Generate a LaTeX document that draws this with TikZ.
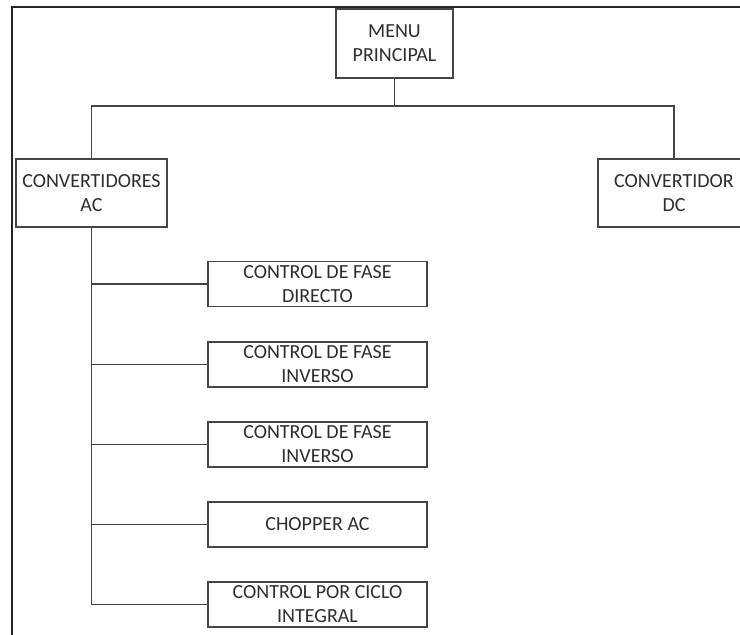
\documentclass[tikz,border=0pt]{standalone}
\usepackage{fontspec}
\setmainfont{Carlito}
\definecolor{linegray}{HTML}{454545}
\definecolor{textgray}{HTML}{2E2E2E}
\begin{document}
\begin{tikzpicture}[x=1pt,y=-1pt,
  box/.style={draw=linegray, line width=1.5pt, align=center,
    font=\fontsize{20}{24}\selectfont, text=textgray, inner sep=0pt},
  conn/.style={draw=linegray, line width=1.5pt}]
\useasboundingbox (0,0) rectangle (740,635);
\clip (0,0) rectangle (740,635);
\fill[white] (0,0) rectangle (740,635);
\draw[line width=1.6pt, black!85] (12,640) -- (12,7) -- (745,7);

\node[box, minimum width=117pt, minimum height=69pt] (menu) at (394.5,43.5) {MENU\\PRINCIPAL};
\node[box, minimum width=151pt, minimum height=68pt] (ac) at (91.5,193) {CONVERTIDORES\\AC};
\node[box, minimum width=152pt, minimum height=68pt] (dc) at (674,193) {CONVERTIDOR\\DC};

\node[box, minimum width=219pt, minimum height=45pt] (c1) at (317.5,284) {CONTROL DE FASE\\DIRECTO};
\node[box, minimum width=219pt, minimum height=45pt] (c2) at (317.5,364.5) {CONTROL DE FASE\\INVERSO};
\node[box, minimum width=219pt, minimum height=45pt] (c3) at (317.5,444.5) {CONTROL DE FASE\\INVERSO};
\node[box, minimum width=219pt, minimum height=45pt] (c4) at (317.5,524.5) {CHOPPER AC};
\node[box, minimum width=219pt, minimum height=45pt] (c5) at (317.5,604.5) {CONTROL POR CICLO\\INTEGRAL};

\coordinate (bus) at (0,106);
\draw[conn] (menu.south) -- (menu.south |- bus);
\draw[conn] (ac.north) -- (ac.north |- bus) -- (dc.north |- bus) -- (dc.north);

\draw[conn] (ac.south) |- (c5.west);
\draw[conn] (ac.south |- c1.west) -- (c1.west);
\draw[conn] (ac.south |- c2.west) -- (c2.west);
\draw[conn] (ac.south |- c3.west) -- (c3.west);
\draw[conn] (ac.south |- c4.west) -- (c4.west);
\end{tikzpicture}
\end{document}
